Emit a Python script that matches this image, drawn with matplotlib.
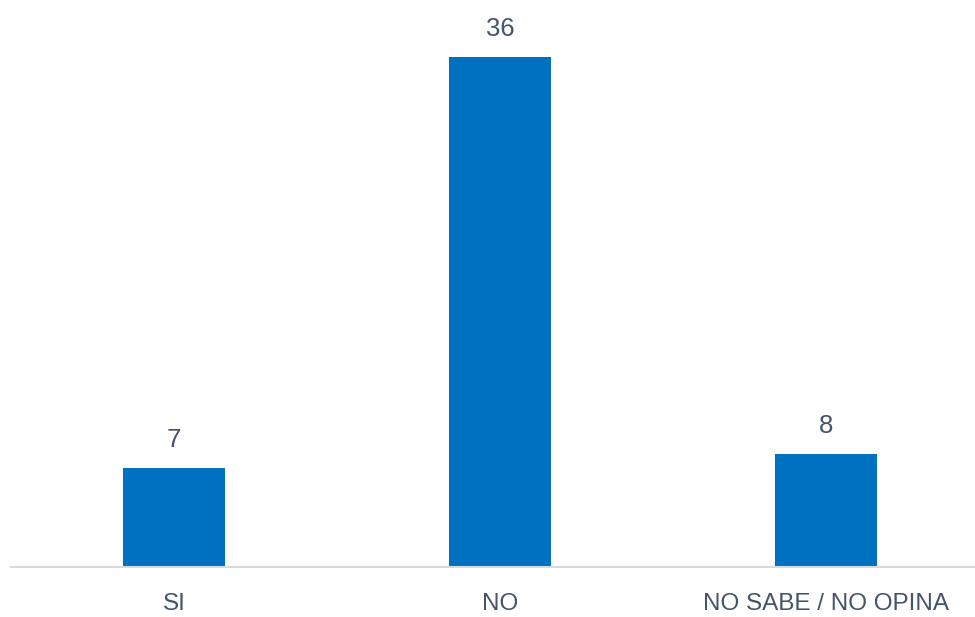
import matplotlib
matplotlib.use("Agg")
import matplotlib.pyplot as plt
from matplotlib import font_manager

categories = ["SI", "NO", "NO SABE / NO OPINA"]
values = [7, 36, 8]

names = {f.name for f in font_manager.fontManager.ttflist}
font = "Liberation Sans Narrow" if "Liberation Sans Narrow" in names else "Liberation Sans"
plt.rcParams["font.family"] = [font, "DejaVu Sans"]

text_color = "#44546A"
bar_color = "#0070C0"

fig = plt.figure(figsize=(9.75, 6.17), dpi=100)
# the plot area runs a little past the right edge of the picture
ax = fig.add_axes([11 / 975, 50 / 617, 978 / 975, 567 / 617])

x = range(len(categories))
bars = ax.bar(x, values, width=0.313, color=bar_color, zorder=2)

for rect, v in zip(bars, values):
    ax.annotate(str(v), (rect.get_x() + rect.get_width() / 2, rect.get_height()),
                xytext=(0, 11), textcoords="offset points",
                ha="center", va="bottom", fontsize=18.5, color=text_color)

ax.set_xlim(-0.5, 2.5)
ax.set_ylim(0, 40)
ax.set_xticks(list(x))
ax.set_xticklabels(categories, fontsize=17.5, color=text_color)
ax.tick_params(axis="x", length=0, pad=19)
ax.set_yticks([])

for s in ["top", "right", "left"]:
    ax.spines[s].set_visible(False)
ax.spines["bottom"].set_color("#D9D9D9")
ax.spines["bottom"].set_linewidth(1.5)

fig.savefig("out.png", dpi=100)
